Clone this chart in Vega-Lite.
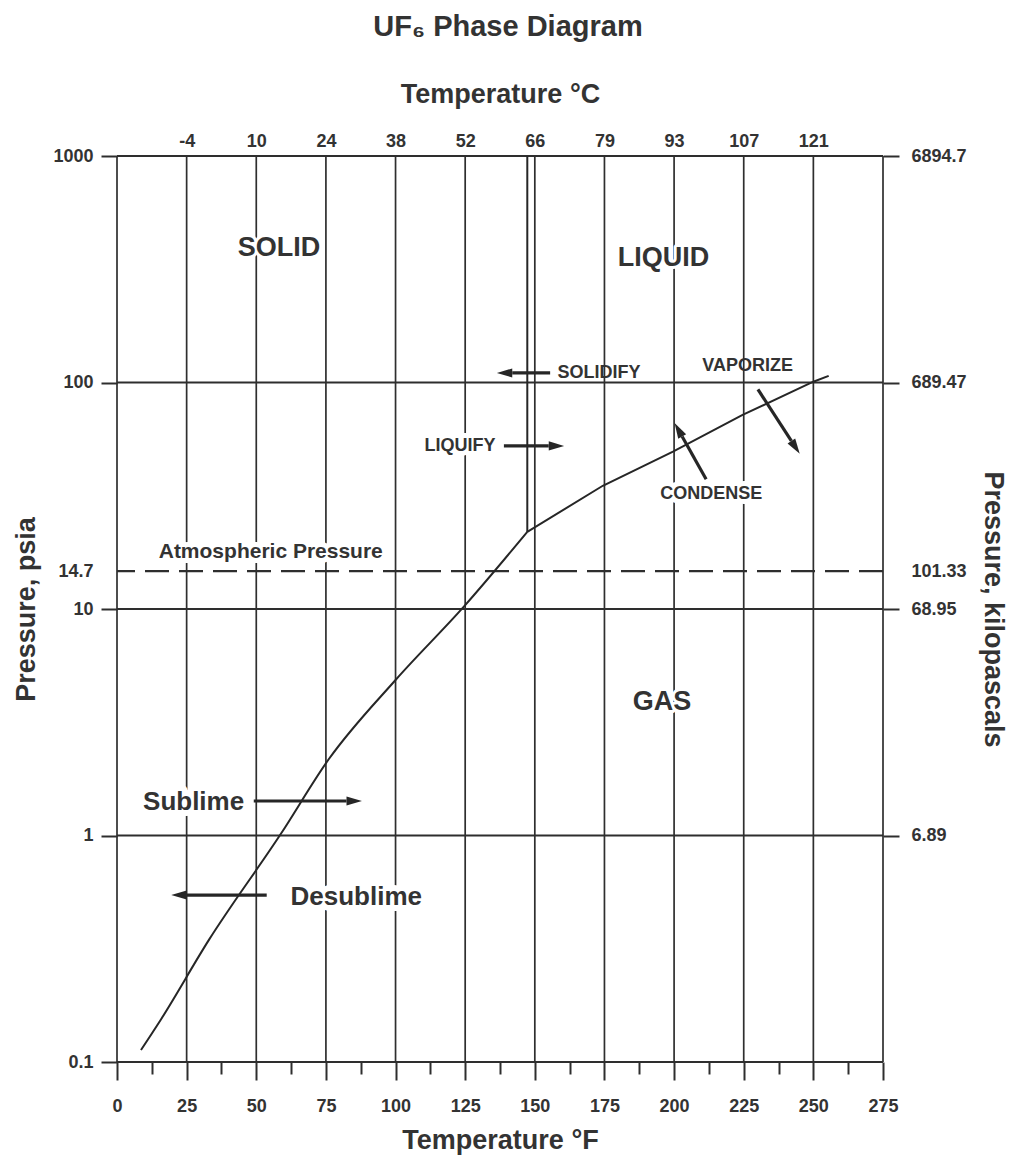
{
  "$schema": "https://vega.github.io/schema/vega-lite/v6.json",
  "width": 766,
  "height": 906,
  "autosize": {"type": "none"},
  "padding": {"left": 117, "top": 156, "right": 136, "bottom": 105},
  "background": "white",
  "title": {
    "text": "UF₆ Phase Diagram",
    "font": "Liberation Sans",
    "fontSize": 29,
    "fontWeight": "bold",
    "color": "#333333",
    "anchor": "middle",
    "frame": "group",
    "offset": 38,
    "dx": 8
  },
  "config": {
    "view": {"stroke": null},
    "axis": {
      "grid": false,
      "domain": false,
      "labelFont": "Liberation Sans",
      "labelFontWeight": "bold",
      "labelFontSize": 18,
      "labelColor": "#333333",
      "labelFlush": false,
      "labelOverlap": false,
      "titleFont": "Liberation Sans",
      "titleFontWeight": "bold",
      "titleFontSize": 27,
      "titleColor": "#333333",
      "tickColor": "#2e2e2e",
      "tickWidth": 2
    }
  },
  "datasets": {
    "vgrid": [{"T": 0}, {"T": 25}, {"T": 50}, {"T": 75}, {"T": 100}, {"T": 125}, {"T": 150}, {"T": 175}, {"T": 200}, {"T": 225}, {"T": 250}, {"T": 275}],
    "hgrid": [{"P": 0.1}, {"P": 1}, {"P": 10}, {"P": 100}, {"P": 1000}],
    "atm": [{"P": 14.7}],
    "sublimation": [
      {"T": 8.6, "P": 0.113},
      {"T": 15.6, "P": 0.153},
      {"T": 33.0, "P": 0.346},
      {"T": 58.9, "P": 1.02},
      {"T": 76.0, "P": 2.17},
      {"T": 100.0, "P": 4.86},
      {"T": 125.0, "P": 10.4},
      {"T": 147.3, "P": 21.9}
    ],
    "vaporization": [
      {"T": 147.3, "P": 21.9},
      {"T": 174.4, "P": 35.0},
      {"T": 199.6, "P": 49.5},
      {"T": 224.6, "P": 71.9},
      {"T": 250.0, "P": 100.8},
      {"T": 255.5, "P": 106.9}
    ],
    "melt": [{"T": 147.3, "P": 21.9, "P2": 1000}],
    "arrows": [
      {"name": "solidify", "T": 155.5, "P": 110.2, "T2": 141.9, "P2": 110.2},
      {"name": "liquify", "T": 138.9, "P": 52.5, "T2": 155.0, "P2": 52.5},
      {"name": "sublime", "T": 49.1, "P": 1.42, "T2": 82.4, "P2": 1.42},
      {"name": "desublime", "T": 53.75, "P": 0.546, "T2": 25.0, "P2": 0.546},
      {"name": "condense", "T": 211.5, "P": 37.4, "T2": 202.9, "P2": 57.8},
      {"name": "vaporize", "T": 230.1, "P": 93.3, "T2": 242.1, "P2": 55.2}
    ],
    "bigLabels": [
      {"label": "SOLID", "T": 58.2, "P": 393},
      {"label": "LIQUID", "T": 196.2, "P": 355},
      {"label": "GAS", "T": 195.7, "P": 3.9}
    ],
    "capsLabels": [
      {"label": "SOLIDIFY", "T": 173.0, "P": 110.2},
      {"label": "VAPORIZE", "T": 226.4, "P": 118},
      {"label": "LIQUIFY", "T": 123.1, "P": 52.5},
      {"label": "CONDENSE", "T": 213.3, "P": 32.2}
    ],
    "mixedLabels": [
      {"label": "Sublime", "T": 27.5, "P": 1.41},
      {"label": "Desublime", "T": 85.9, "P": 0.537}
    ],
    "atmLabel": [
      {"label": "Atmospheric Pressure", "T": 55.2, "P": 17.9}
    ]
  },
  "resolve": {"axis": {"x": "independent", "y": "independent"}},
  "layer": [
    {
      "data": {"name": "vgrid"},
      "mark": {"type": "rule", "stroke": "#2e2e2e", "strokeWidth": 1.7},
      "encoding": {
        "x": {
          "field": "T",
          "type": "quantitative",
          "scale": {"domain": [0, 275], "nice": false, "zero": false},
          "axis": {
            "orient": "bottom",
            "values": [0, 25, 50, 75, 100, 125, 150, 175, 200, 225, 250, 275],
            "tickSize": 18,
            "labelPadding": 17,
            "title": "Temperature °F",
            "titlePadding": 12
          }
        }
      }
    },
    {
      "data": {"name": "hgrid"},
      "mark": {"type": "rule", "stroke": "#2e2e2e", "strokeWidth": 1.8},
      "encoding": {
        "y": {
          "field": "P",
          "type": "quantitative",
          "scale": {"type": "log", "domain": [0.1, 1000], "nice": false},
          "axis": {
            "orient": "left",
            "values": [0.1, 1, 10, 14.7, 100, 1000],
            "labelExpr": "'' + datum.value",
            "tickSize": 16,
            "tickColor": {"condition": {"test": "datum.value === 14.7", "value": "transparent"}, "value": "#2e2e2e"},
            "labelPadding": 8,
            "title": "Pressure, psia",
            "titlePadding": 12
          }
        }
      }
    },
    {
      "data": {"name": "bigLabels"},
      "mark": {"type": "text", "font": "Liberation Sans", "fontWeight": "bold", "fontSize": 27, "fill": "white", "stroke": "white", "strokeWidth": 6, "strokeJoin": "round"},
      "encoding": {
        "x": {"field": "T", "type": "quantitative", "scale": {"domain": [0, 275], "nice": false, "zero": false}, "axis": null},
        "y": {"field": "P", "type": "quantitative", "scale": {"type": "log", "domain": [0.1, 1000], "nice": false}, "axis": null},
        "text": {"field": "label"}
      }
    },
    {
      "data": {"name": "capsLabels"},
      "transform": [{"filter": "datum.label === 'LIQUIFY' || datum.label === 'CONDENSE'"}],
      "mark": {"type": "text", "font": "Liberation Sans", "fontWeight": "bold", "fontSize": 18, "fill": "white", "stroke": "white", "strokeWidth": 10, "strokeJoin": "round"},
      "encoding": {
        "x": {"field": "T", "type": "quantitative", "scale": {"domain": [0, 275], "nice": false, "zero": false}, "axis": null},
        "y": {"field": "P", "type": "quantitative", "scale": {"type": "log", "domain": [0.1, 1000], "nice": false}, "axis": null},
        "text": {"field": "label"}
      }
    },
    {
      "data": {"name": "mixedLabels"},
      "mark": {"type": "text", "font": "Liberation Sans", "fontWeight": "bold", "fontSize": 26, "fill": "white", "stroke": "white", "strokeWidth": 12, "strokeJoin": "round"},
      "encoding": {
        "x": {"field": "T", "type": "quantitative", "scale": {"domain": [0, 275], "nice": false, "zero": false}, "axis": null},
        "y": {"field": "P", "type": "quantitative", "scale": {"type": "log", "domain": [0.1, 1000], "nice": false}, "axis": null},
        "text": {"field": "label"}
      }
    },
    {
      "data": {"name": "atmLabel"},
      "mark": {"type": "text", "font": "Liberation Sans", "fontWeight": "bold", "fontSize": 21, "fill": "white", "stroke": "white", "strokeWidth": 10, "strokeJoin": "round"},
      "encoding": {
        "x": {"field": "T", "type": "quantitative", "scale": {"domain": [0, 275], "nice": false, "zero": false}, "axis": null},
        "y": {"field": "P", "type": "quantitative", "scale": {"type": "log", "domain": [0.1, 1000], "nice": false}, "axis": null},
        "text": {"field": "label"}
      }
    },
    {
      "data": {"name": "atm"},
      "mark": {"type": "rule", "stroke": "#2e2e2e", "strokeWidth": 2.2, "strokeDash": [24, 10]},
      "encoding": {
        "y": {
          "field": "P",
          "type": "quantitative",
          "scale": {"type": "log", "domain": [0.1, 1000], "nice": false},
          "axis": {
            "orient": "right",
            "values": [1, 10, 14.7, 100, 1000],
            "labelExpr": "datum.value === 1000 ? '6894.7' : datum.value === 100 ? '689.47' : datum.value === 14.7 ? '101.33' : datum.value === 10 ? '68.95' : datum.value === 1 ? '6.89' : ''",
            "tickSize": 16,
            "tickColor": {"condition": {"test": "datum.value === 14.7", "value": "transparent"}, "value": "#2e2e2e"},
            "labelPadding": 12,
            "title": "Pressure, kilopascals",
            "titlePadding": 12
          }
        }
      }
    },
    {
      "data": {"name": "sublimation"},
      "mark": {"type": "line", "stroke": "#262626", "strokeWidth": 2, "interpolate": "monotone"},
      "encoding": {
        "x": {
          "field": "T",
          "type": "quantitative",
          "scale": {"domain": [0, 275], "nice": false, "zero": false},
          "axis": {
            "orient": "top",
            "values": [25, 50, 75, 100, 125, 150, 175, 200, 225, 250],
            "labelExpr": "'' + round((datum.value - 32) * 5 / 9)",
            "ticks": false,
            "labelPadding": 6,
            "title": "Temperature °C",
            "titlePadding": 24
          }
        },
        "y": {"field": "P", "type": "quantitative", "scale": {"type": "log", "domain": [0.1, 1000], "nice": false}, "axis": null}
      }
    },
    {
      "data": {"name": "vaporization"},
      "mark": {"type": "line", "stroke": "#262626", "strokeWidth": 2},
      "encoding": {
        "x": {"field": "T", "type": "quantitative", "scale": {"domain": [0, 275], "nice": false, "zero": false}, "axis": null},
        "y": {"field": "P", "type": "quantitative", "scale": {"type": "log", "domain": [0.1, 1000], "nice": false}, "axis": null}
      }
    },
    {
      "data": {"name": "melt"},
      "mark": {"type": "rule", "stroke": "#262626", "strokeWidth": 2},
      "encoding": {
        "x": {
          "field": "T",
          "type": "quantitative",
          "scale": {"domain": [0, 275], "nice": false, "zero": false},
          "axis": {
            "orient": "bottom",
            "values": [12.5, 37.5, 62.5, 87.5, 112.5, 137.5, 162.5, 187.5, 212.5, 237.5, 262.5],
            "tickSize": 12,
            "labels": false,
            "title": null
          }
        },
        "y": {"field": "P", "type": "quantitative", "scale": {"type": "log", "domain": [0.1, 1000], "nice": false}, "axis": null},
        "y2": {"field": "P2"}
      }
    },
    {
      "data": {"name": "arrows"},
      "mark": {"type": "rule", "stroke": "#262626", "strokeWidth": 3.2},
      "encoding": {
        "x": {"field": "T", "type": "quantitative", "scale": {"domain": [0, 275], "nice": false, "zero": false}, "axis": null},
        "y": {"field": "P", "type": "quantitative", "scale": {"type": "log", "domain": [0.1, 1000], "nice": false}, "axis": null},
        "x2": {"field": "T2"},
        "y2": {"field": "P2"}
      }
    },
    {
      "data": {"name": "arrows"},
      "transform": [{"filter": "datum.name === 'liquify' || datum.name === 'sublime'"}],
      "mark": {"type": "point", "shape": "M0,-2.2L0.65,0L-0.65,0Z", "size": 196, "filled": true, "fill": "#262626", "opacity": 1, "strokeWidth": 0, "angle": 90},
      "encoding": {
        "x": {"field": "T2", "type": "quantitative", "scale": {"domain": [0, 275], "nice": false, "zero": false}, "axis": null},
        "y": {"field": "P2", "type": "quantitative", "scale": {"type": "log", "domain": [0.1, 1000], "nice": false}, "axis": null}
      }
    },
    {
      "data": {"name": "arrows"},
      "transform": [{"filter": "datum.name === 'solidify' || datum.name === 'desublime'"}],
      "mark": {"type": "point", "shape": "M0,-2.2L0.65,0L-0.65,0Z", "size": 196, "filled": true, "fill": "#262626", "opacity": 1, "strokeWidth": 0, "angle": 270},
      "encoding": {
        "x": {"field": "T2", "type": "quantitative", "scale": {"domain": [0, 275], "nice": false, "zero": false}, "axis": null},
        "y": {"field": "P2", "type": "quantitative", "scale": {"type": "log", "domain": [0.1, 1000], "nice": false}, "axis": null}
      }
    },
    {
      "data": {"name": "arrows"},
      "transform": [{"filter": "datum.name === 'condense'"}],
      "mark": {"type": "point", "shape": "M0,-2.2L0.65,0L-0.65,0Z", "size": 196, "filled": true, "fill": "#262626", "opacity": 1, "strokeWidth": 0, "angle": 330.5},
      "encoding": {
        "x": {"field": "T2", "type": "quantitative", "scale": {"domain": [0, 275], "nice": false, "zero": false}, "axis": null},
        "y": {"field": "P2", "type": "quantitative", "scale": {"type": "log", "domain": [0.1, 1000], "nice": false}, "axis": null}
      }
    },
    {
      "data": {"name": "arrows"},
      "transform": [{"filter": "datum.name === 'vaporize'"}],
      "mark": {"type": "point", "shape": "M0,-2.2L0.65,0L-0.65,0Z", "size": 196, "filled": true, "fill": "#262626", "opacity": 1, "strokeWidth": 0, "angle": 147},
      "encoding": {
        "x": {"field": "T2", "type": "quantitative", "scale": {"domain": [0, 275], "nice": false, "zero": false}, "axis": null},
        "y": {"field": "P2", "type": "quantitative", "scale": {"type": "log", "domain": [0.1, 1000], "nice": false}, "axis": null}
      }
    },
    {
      "data": {"name": "bigLabels"},
      "mark": {"type": "text", "font": "Liberation Sans", "fontWeight": "bold", "fontSize": 27, "fill": "#333333"},
      "encoding": {
        "x": {"field": "T", "type": "quantitative", "scale": {"domain": [0, 275], "nice": false, "zero": false}, "axis": null},
        "y": {"field": "P", "type": "quantitative", "scale": {"type": "log", "domain": [0.1, 1000], "nice": false}, "axis": null},
        "text": {"field": "label"}
      }
    },
    {
      "data": {"name": "capsLabels"},
      "mark": {"type": "text", "font": "Liberation Sans", "fontWeight": "bold", "fontSize": 18, "fill": "#333333"},
      "encoding": {
        "x": {"field": "T", "type": "quantitative", "scale": {"domain": [0, 275], "nice": false, "zero": false}, "axis": null},
        "y": {"field": "P", "type": "quantitative", "scale": {"type": "log", "domain": [0.1, 1000], "nice": false}, "axis": null},
        "text": {"field": "label"}
      }
    },
    {
      "data": {"name": "mixedLabels"},
      "mark": {"type": "text", "font": "Liberation Sans", "fontWeight": "bold", "fontSize": 26, "fill": "#333333"},
      "encoding": {
        "x": {"field": "T", "type": "quantitative", "scale": {"domain": [0, 275], "nice": false, "zero": false}, "axis": null},
        "y": {"field": "P", "type": "quantitative", "scale": {"type": "log", "domain": [0.1, 1000], "nice": false}, "axis": null},
        "text": {"field": "label"}
      }
    },
    {
      "data": {"name": "atmLabel"},
      "mark": {"type": "text", "font": "Liberation Sans", "fontWeight": "bold", "fontSize": 21, "fill": "#333333"},
      "encoding": {
        "x": {"field": "T", "type": "quantitative", "scale": {"domain": [0, 275], "nice": false, "zero": false}, "axis": null},
        "y": {"field": "P", "type": "quantitative", "scale": {"type": "log", "domain": [0.1, 1000], "nice": false}, "axis": null},
        "text": {"field": "label"}
      }
    }
  ]
}
